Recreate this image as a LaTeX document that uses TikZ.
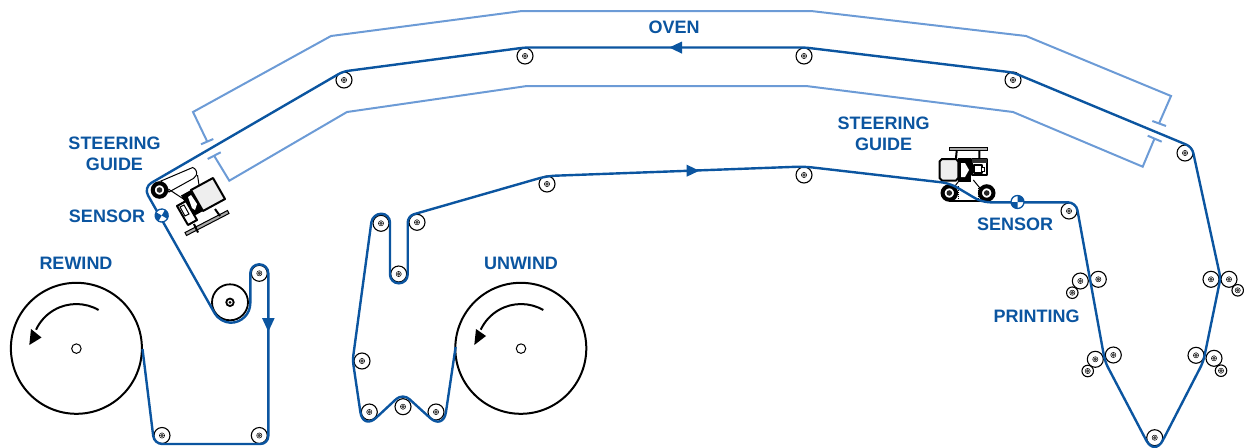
\documentclass[tikz,border=0pt]{standalone}
\usepackage{fontspec}
\setmainfont{Liberation Sans}
\definecolor{webblue}{HTML}{0B55A0}
\definecolor{ovenblue}{HTML}{6C9BD6}
\definecolor{lblblue}{HTML}{0B55A0}
\definecolor{boxgray}{HTML}{EEEEEE}
\definecolor{bargray}{HTML}{AAAAAA}
\tikzset{
  web/.style={draw=webblue,line width=2.4pt,line join=round},
  ovenline/.style={draw=ovenblue,line width=2pt,line join=miter},
  lbl/.style={text=lblblue,font=\bfseries\fontsize{18}{20.5}\selectfont,align=center,inner sep=0pt},
  reel/.style={circle,draw=black,line width=2pt,minimum size=131pt,inner sep=0pt,fill=white},
  hub/.style={circle,draw=black,line width=1pt,minimum size=9.5pt,inner sep=0pt,fill=white},
  turnarrow/.style={draw=black,line width=2pt},
  rollerA/.style={circle,draw=black,line width=1.1pt,minimum size=16pt,inner sep=0pt,fill=white,path picture={\fill[black!70] (path picture bounding box.center) circle (1.9pt);\draw[black,line width=.5pt] (path picture bounding box.center) circle (2.6pt);}},
  rollerB/.style={rollerA,minimum size=11.5pt},
  guidedark/.style={draw=black,line width=2pt,line join=round},
  guidethin/.style={draw=black,line width=1pt},
  guidewheel/.style={circle,draw=black,line width=4pt,minimum size=13.5pt,inner sep=0pt,fill=white,path picture={\fill[black!85] (path picture bounding box.center) circle (2.8pt);}},
}
\newcommand{\sensormark}[2]{%
  \begin{scope}[shift={(#1)},rotate=#2]
    \fill[white] (0,0) circle (6.5);
    \fill[webblue] (0,0) -- (6.5,0) arc[start angle=0,end angle=-90,radius=6.5] -- cycle;
    \fill[webblue] (0,0) -- (-6.5,0) arc[start angle=180,end angle=90,radius=6.5] -- cycle;
    \draw[webblue,line width=1.3pt] (0,0) circle (6.5);
  \end{scope}}
\begin{document}
\begin{tikzpicture}[x=1pt,y=-1pt]
\useasboundingbox (0,0) rectangle (1244,447);
% oven
\coordinate (oa1) at (207.3,141.7); \coordinate (oa2) at (193,112); \coordinate (oa3) at (331,36);
\coordinate (oa4) at (522,11); \coordinate (oa5) at (811,11); \coordinate (oa6) at (1026,36);
\coordinate (oa7) at (1171,96); \coordinate (oa8) at (1159,123.5);
\coordinate (ob1) at (214.3,156); \coordinate (ob2) at (229.3,180.7); \coordinate (ob3) at (347,112);
\coordinate (ob4) at (527,86); \coordinate (ob5) at (806,86); \coordinate (ob6) at (1013,112);
\coordinate (ob7) at (1142.7,166.7); \coordinate (ob8) at (1154.3,139);
\draw[ovenline] (oa1)--(oa2)--(oa3)--(oa4)--(oa5)--(oa6)--(oa7)--(oa8);
\draw[ovenline] (ob1)--(ob2)--(ob3)--(ob4)--(ob5)--(ob6)--(ob7)--(ob8);
\draw[ovenline] (201,144.3)--(213.3,139);
\draw[ovenline] (207.7,159)--(220.7,152.3);
\draw[ovenline] (1152.3,121)--(1166,126);
\draw[ovenline] (1147.7,135.7)--(1161.7,141.7);
% reels
\node[reel] (rewind) at (76.4,348.3) {};
\node[hub] (rewindhub) at (76.4,348.6) {};
\node[reel] (unwind) at (520.8,348.3) {};
\node[hub] (unwindhub) at (521,348.6) {};
\draw[turnarrow] (98.6,310) arc[start angle=-60,end angle=-155,radius=44.5];
\fill[black] (29.3,345)--(31,329)--(41.5,337.5)--cycle;
\draw[turnarrow] (543.3,310) arc[start angle=-60,end angle=-155,radius=44.5];
\fill[black] (474.3,345)--(476,329)--(486,336)--cycle;
% idler
\node[circle,draw=black,line width=1.8pt,minimum size=36pt,inner sep=0pt,fill=white] (idler) at (230,302.3) {};
\node[circle,draw=black,line width=1.8pt,minimum size=7.5pt,inner sep=0pt,fill=white,path picture={\fill[black] (path picture bounding box.center) circle (1.5pt);}] (idlerhub) at (230,302.3) {};
% rollers
\foreach \n/\x/\y in {r1/162/435.5,r2/259.3/435.5,r3/259.3/273.3,
  t1/344/80,t2/525/56,t3/804/56,t4/1013/80,t5/1185/153,
  m1/547/184,m2/804/175,m3/1069/211,
  u1/417/222.3,u2/381/223.3,u3/398.7/274,u4/362/361,u5/369.3/412,u6/403/406.7,u7/436/412,
  p1/1080.3/281,p2/1098.3/279.3,p3/1095.3/359.3,p4/1113.3/355,
  p5/1211/279.3,p6/1229/279.3,p7/1196/355.3,p8/1214/358.3,p9/1154.7/437.7}
  {\node[rollerA] (\n) at (\x,\y) {};}
\foreach \n/\x/\y in {s1/1072.3/292.7,s2/1087.7/371,s3/1237.7/290.3,s4/1221/370.7}
  {\node[rollerB] (\n) at (\x,\y) {};}
% left steering guide
\draw[guidethin,fill=white] (161,181)--(192.7,167.5) arc[start angle=-70,end angle=60,radius=6] --(169,192)--cycle;
\draw[guidethin] (168.3,189)--(185,200) (197.5,175)--(199,185);
\draw[guidethin,fill=bargray] (185,232.5)--(227.5,210.5)--(229,213.5)--(186.5,235.5)--cycle;
\draw[guidedark] (194,224)--(198,232.5) (215,209)--(220,216);
\fill[black] (191,190)--(203,211)--(193,216.5)--(181,195.5)--cycle;
\fill[white] (188,197)--(191,195)--(197,204)--(195,210)--(192,208)--cycle;
\draw[guidedark,fill=boxgray] (213,178)--(225,199)--(203,211)--(191,190)--cycle;
\draw[guidedark,fill=white] (177,206)--(186,201)--(197,220)--(188,225)--cycle;
\draw[guidethin,fill=white] (180,207)--(184,205)--(189,214)--(185,216)--cycle;
\node[guidewheel] (leftwheel) at (159.5,190) {};
% right steering guide
\draw[guidethin,fill=bargray] (949,147.7) rectangle (987.3,150.7);
\draw[guidedark] (956.7,150.7)--(956,158) (979.3,150.7)--(979.3,158);
\draw[guidethin] (958.3,181.7)--(955,186) (973.3,180)--(980.7,189);
\draw[guidedark] (949,201)--(987,201);
\draw[guidethin,densely dotted] (958,186)--(958,200) (978,186)--(978,200);
\fill[black] (958,158) rectangle (971,181.5);
\fill[white] (961,163)--(965,163)--(969,170)--(965,177)--(961,177)--cycle;
\draw[guidedark,fill=boxgray] (942,159)--(956,159)--(958.3,161.5)--(958.3,178)--(956,180.5)--(942,180.5)--(939.5,178)--(939.5,161.5)--cycle;
\draw[guidedark,fill=white] (971.7,158.5) rectangle (987,175);
\fill[black!80] (971.7,158.5) rectangle (987,163);
\draw[guidedark,fill=white] (974,165) rectangle (981.5,173);
\draw[guidethin,fill=white] (981.5,167) rectangle (984.5,171.5);
\node[guidewheel] (wheela) at (949.3,193) {};
\node[guidewheel] (wheelb) at (986.7,193) {};
% web
\draw[web] (455.6,347)
  [rounded corners=18] -- (443.3,430)
  [rounded corners=9] -- (402.7,393)
  [rounded corners=18] -- (363,430)
  [rounded corners=5] -- (352.7,360)
  [rounded corners=8.7] -- (372.5,213.7)
  [rounded corners=8.7] -- (390,213.7)
  [rounded corners=8.7] -- (390,283.3)
  [rounded corners=8.7] -- (407.7,283.3)
  [rounded corners=6.5] -- (407.7,216)
  [rounded corners=8] -- (547,176)
  [rounded corners=8] -- (804,166.5)
  [rounded corners=8] -- (950,183.3)
  [rounded corners=8] -- (982,202.3)
  [rounded corners=8] -- (1076,202.3)
  [rounded corners=6] -- (1105,361.7)
  [rounded corners=18] -- (1154.6,456.3)
  [rounded corners=6] -- (1203.3,361.7)
  [rounded corners=5] -- (1220.5,278)
  [rounded corners=6] -- (1192,147)
  [rounded corners=5] -- (1013,72.5)
  [rounded corners=5] -- (805,47.5)
  [rounded corners=5] -- (525,47.5)
  [rounded corners=5] -- (343,71.5)
  [rounded corners=9] -- (143.5,187.4)
  [rounded corners=10.5] -- (220,322.7)
  [rounded corners=19.5] -- (250.3,322.7)
  [rounded corners=8.9] -- (250.3,264.3)
  [rounded corners=8.9] -- (268.3,264.3)
  [rounded corners=8] -- (268.3,444)
  [rounded corners=8] -- (154.2,444)
  -- (142.5,349);
% arrows on the web
\fill[webblue] (669.3,47.5)--(682,41.5)--(682,53.7)--cycle;
\fill[webblue] (699.3,170.7)--(686.7,164.7)--(686.7,176.7)--cycle;
\fill[webblue] (268.3,331.7)--(262,318)--(274.7,318)--cycle;
% sensors
\sensormark{161.7,215.5}{-30}
\sensormark{1017.5,202}{0}
% labels
\node[lbl] (oven) at (674,27.5) {OVEN};
\node[lbl] (steerleft) at (114.5,154) {STEERING\\GUIDE};
\node[lbl] (steerright) at (883.5,134) {STEERING\\GUIDE};
\node[lbl] (sensleft) at (107,216) {SENSOR};
\node[lbl] (sensright) at (1015,224) {SENSOR};
\node[lbl] (rewindlbl) at (76,263) {REWIND};
\node[lbl] (unwindlbl) at (521,263.5) {UNWIND};
\node[lbl] (printing) at (1036.5,316) {PRINTING};
\end{tikzpicture}
\end{document}
